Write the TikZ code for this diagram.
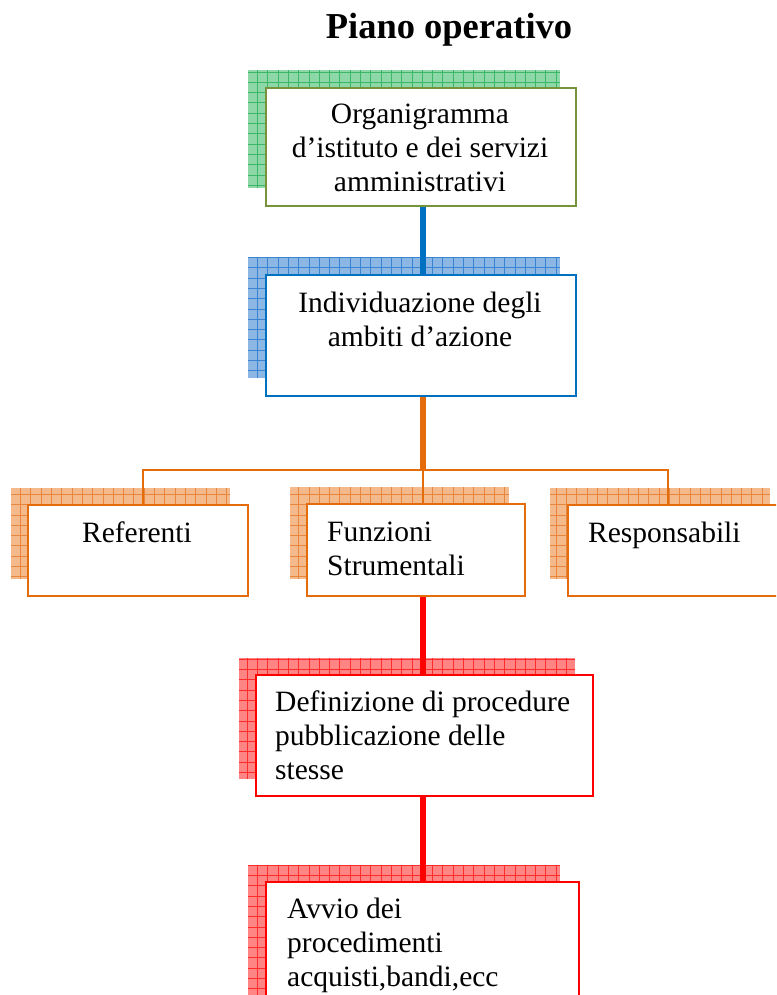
\documentclass[tikz,border=0pt]{standalone}
\usepackage{fontspec}
\setmainfont{Liberation Serif}
\definecolor{gOut}{RGB}{119,147,60}
\definecolor{bOut}{RGB}{0,112,192}
\definecolor{oOut}{RGB}{228,108,10}
\definecolor{rOut}{RGB}{255,0,0}
\definecolor{gFill}{RGB}{142,216,168}
\definecolor{gLine}{RGB}{60,182,104}
\definecolor{bFill}{RGB}{140,182,228}
\definecolor{bLine}{RGB}{58,132,212}
\definecolor{oFill}{RGB}{245,186,140}
\definecolor{oLine}{RGB}{232,134,62}
\definecolor{rFill}{RGB}{255,132,132}
\definecolor{rLine}{RGB}{255,44,44}
\newcommand\hatchshadow[5]{%
  \begin{scope}
    \clip (#1,#2) rectangle (#3,#4);
    \fill[#5Fill] (#1,#2) rectangle (#3,#4);
    \draw[#5Line, line width=1pt, xstep=10.3pt, ystep=10.3pt] (#1,#2) grid (#3,#4);
  \end{scope}}
\begin{document}
\begin{tikzpicture}[x=1pt,y=-1pt,
  box/.style={draw=#1, line width=2pt, fill=white, anchor=north west, inner sep=0pt},
  txt/.style={font=\fontsize{29.5}{34}\selectfont, inner sep=0pt},
  conn/.style={draw=#1, line width=6pt},
  thinconn/.style={draw=#1, line width=2pt}]
\useasboundingbox (0,0) rectangle (776,995);
\clip (0,0) rectangle (776,995);
% shadows
\hatchshadow{248}{70}{560}{188}{g}
\hatchshadow{248}{257}{560}{378}{b}
\hatchshadow{11}{488}{230}{579}{o}
\hatchshadow{290}{487}{509}{579}{o}
\hatchshadow{550}{488}{770}{579}{o}
\hatchshadow{239}{658}{575}{779}{r}
\hatchshadow{248}{865}{560}{1005}{r}
% title
\node[font=\fontsize{36.5}{40}\selectfont\bfseries, anchor=base, inner sep=0pt] (title) at (449,39) {Piano operativo};
% boxes
\node[box=gOut, minimum width=310, minimum height=118] (org) at (265,87) {};
\node[box=bOut, minimum width=310, minimum height=121] (ind) at (265,274) {};
\node[box=oOut, minimum width=220, minimum height=91] (ref) at (27,504) {};
\node[box=oOut, minimum width=218, minimum height=92] (fun) at (306,503) {};
\node[box=oOut, minimum width=240, minimum height=91] (resp) at (567,504) {};
\node[box=rOut, minimum width=337, minimum height=121] (def) at (255,674) {};
\node[box=rOut, minimum width=313, minimum height=140] (avv) at (265,881) {};
% connector coordinates
\coordinate (axis) at (423,0);
\coordinate (refx) at (143,0);
\coordinate (respx) at (668,0);
\coordinate (jn) at (423,470);
% connectors
\draw[conn=bOut] (org.south -| axis) -- (ind.north -| axis);
\draw[conn=oOut] (ind.south -| axis) -- (jn);
\draw[thinconn=oOut] (ref.north -| refx) |- (jn) -| (resp.north -| respx);
\draw[thinconn=oOut] (jn) -- (fun.north -| axis);
\draw[conn=rOut] (fun.south -| axis) -- (def.north -| axis);
\draw[conn=rOut] (def.south -| axis) -- (avv.north -| axis);
% texts
\node[txt, align=center, anchor=north] (orgT) at (420,102) {\rule{0pt}{21pt}Organigramma\\d’istituto e dei servizi\\amministrativi};
\node[txt, align=center, anchor=north] (indT) at (420,291) {\rule{0pt}{21pt}Individuazione degli\\ambiti d’azione};
\node[txt, anchor=base] (refT) at (137,542) {Referenti};
\node[txt, align=left, anchor=north west] (funT) at (327,520) {\rule{0pt}{21pt}Funzioni\\Strumentali};
\node[txt, anchor=base west] (respT) at (588,542) {Responsabili};
\node[txt, align=left, anchor=north west] (defT) at (275,690) {\rule{0pt}{21pt}Definizione di procedure\\pubblicazione delle\\stesse};
\node[txt, align=left, anchor=north west] (avvT) at (287,897) {\rule{0pt}{21pt}Avvio dei\\procedimenti\\acquisti,bandi,ecc};
\end{tikzpicture}
\end{document}
